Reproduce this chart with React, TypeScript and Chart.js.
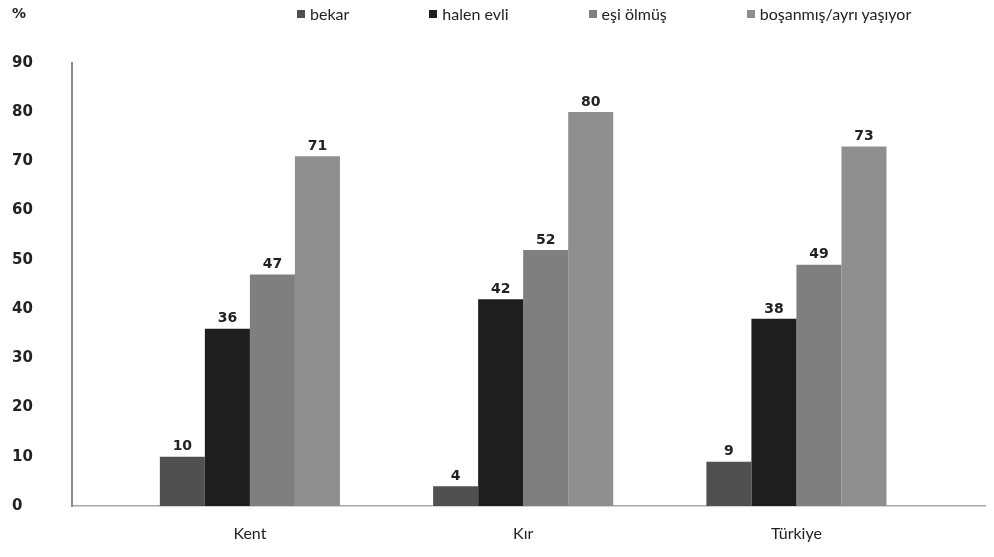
import React, { useEffect, useRef } from "react";
import { Chart, registerables } from "chart.js";

Chart.register(...registerables);

// ---- data ----
const categories = ["Kent", "Kır", "Türkiye"];
const seriesNames = ["bekar", "halen evli", "eşi ölmüş", "boşanmış/ayrı yaşıyor"];
const bekar = [10, 4, 9];
const halenEvli = [36, 42, 38];
const esiOlmus = [47, 52, 49];
const bosanmis = [71, 80, 73];
const yMin = 0;
const yMax = 90;
const yStep = 10;

const seriesValues = [bekar, halenEvli, esiOlmus, bosanmis];
const seriesColors = ["#505050", "#1e1e1e", "#7f7f7f", "#8f8f8f"];

const TEXT = "#222222";

const valueLabels = {
  id: "valueLabels",
  afterDatasetsDraw(chart: any) {
    const ctx = chart.ctx;
    ctx.save();
    ctx.font = "bold 14px 'DejaVu Sans'";
    ctx.fillStyle = TEXT;
    ctx.textAlign = "center";
    ctx.textBaseline = "bottom";
    chart.data.datasets.forEach((ds: any, i: number) => {
      const meta = chart.getDatasetMeta(i);
      meta.data.forEach((el: any, j: number) => {
        ctx.fillText(String(ds.data[j].y), el.x, el.y - 3);
      });
    });
    ctx.restore();
  },
};

export default function App() {
  const ref = useRef<HTMLCanvasElement | null>(null);

  useEffect(() => {
    if (!ref.current) return;
    const chart = new Chart(ref.current, {
      type: "bar",
      data: {
        datasets: seriesNames.map((name, i) => ({
          label: name,
          data: seriesValues[i].map((v, j) => ({ x: j, y: v })),
          backgroundColor: seriesColors[i],
          borderWidth: 0,
        })),
      },
      options: {
        responsive: false,
        animation: false,
        categoryPercentage: 0.659,
        barPercentage: 1.0,
        layout: { padding: { left: 12, right: 9, top: 0, bottom: 0 } },
        plugins: {
          legend: { display: false },
          tooltip: { enabled: false },
          title: {
            display: true,
            text: "%",
            align: "start",
            color: TEXT,
            font: { family: "'DejaVu Sans'", size: 14, weight: "bold" },
            padding: { top: 6, bottom: 40 },
          },
        },
        scales: {
          x: {
            type: "linear",
            offset: false,
            min: -0.651,
            max: 2.69,
            grid: { display: false, drawTicks: false },
            border: { display: true, color: "#a8a8a8", width: 1.5 },
            afterBuildTicks: (scale: any) => {
              scale.ticks = categories.map((_, i) => ({ value: i }));
            },
            afterFit: (scale: any) => {
              scale.height = 51;
            },
            ticks: {
              padding: 18,
              color: TEXT,
              font: { family: "Lato", size: 16 },
              callback: (v: any) => categories[v as number] ?? "",
            },
          },
          y: {
            min: yMin,
            max: yMax,
            grid: { display: false, drawTicks: false },
            border: { display: true, color: "#8c8c8c", width: 2 },
            afterFit: (scale: any) => {
              scale.width = 60;
            },
            ticks: {
              stepSize: yStep,
              crossAlign: "far",
              color: TEXT,
              font: { family: "'DejaVu Sans'", size: 15, weight: "bold" },
            },
          },
        },
      },
      plugins: [valueLabels],
    } as any);
    return () => chart.destroy();
  }, []);

  return (
    <div
      style={{
        position: "fixed",
        left: 0,
        top: 0,
        width: 994,
        height: 557,
        background: "#ffffff",
      }}
    >
      <canvas ref={ref} width={994} height={557} style={{ display: "block" }} />
      <div
        style={{
          position: "absolute",
          left: 297,
          top: 4,
          display: "flex",
          alignItems: "center",
          gap: 80,
          fontFamily: "Lato",
          fontSize: 16,
          color: TEXT,
          lineHeight: "20px",
        }}
      >
        {seriesNames.map((name, i) => (
          <div key={name} style={{ display: "flex", alignItems: "center" }}>
            <span
              style={{
                display: "inline-block",
                width: 8,
                height: 8,
                background: seriesColors[i],
                marginRight: 5,
              }}
            />
            <span>{name}</span>
          </div>
        ))}
      </div>
    </div>
  );
}
